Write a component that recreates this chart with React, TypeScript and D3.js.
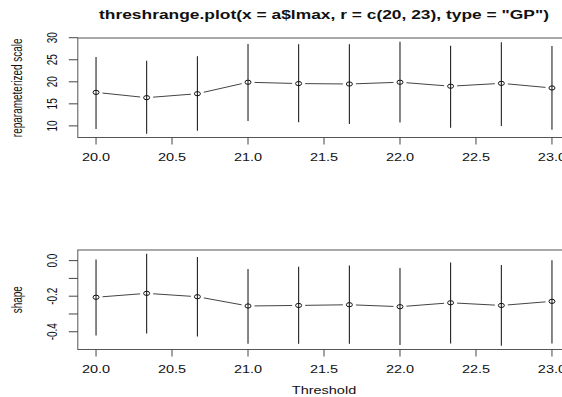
import React from 'react';
import * as d3 from 'd3';

const thresholds = [20, 20.333, 20.667, 21, 21.333, 21.667, 22, 22.333, 22.667, 23];

const scaleEst = [17.6, 16.4, 17.3, 19.9, 19.6, 19.5, 19.9, 19.0, 19.65, 18.6];
const scaleLo = [9.3, 8.2, 8.9, 11.1, 10.8, 10.45, 10.75, 9.6, 10.0, 9.1];
const scaleHi = [25.6, 24.8, 25.8, 28.6, 28.5, 28.5, 29.1, 28.2, 29.0, 28.1];

const shapeEst = [-0.206, -0.184, -0.203, -0.255, -0.252, -0.248, -0.259, -0.237, -0.252, -0.229];
const shapeLo = [-0.421, -0.41, -0.426, -0.468, -0.468, -0.468, -0.475, -0.466, -0.479, -0.466];
const shapeHi = [0.006, 0.039, 0.021, -0.047, -0.035, -0.028, -0.041, -0.011, -0.024, 0.002];

const xTicks = [20, 20.5, 21, 21.5, 22, 22.5, 23];
const scaleTicks = [10, 15, 20, 25, 30];
const shapeTicks = [0, -0.1, -0.2, -0.3, -0.4];
const shapeTickLabels = ['0.0', '', '-0.2', '', '-0.4'];

const TITLE = 'threshrange.plot(x = a$lmax, r = c(20, 23), type = "GP")';
const FONT = '"Liberation Sans", Arial, Helvetica, sans-serif';
const SX = 1.45; // the picture is stretched sideways

// R style axis limits: data range plus 4%
function rlim(vals: number[]): [number, number] {
	const lo = d3.min(vals) as number;
	const hi = d3.max(vals) as number;
	const pad = (hi - lo) * 0.04;
	return [lo - pad, hi + pad];
}

const x = d3.scaleLinear().domain(rlim(thresholds)).range([77.8, 570.2]);

function Txt(props: { x: number; y: number; rot?: boolean; size: number; bold?: boolean; children: string }) {
	const { rot, size, bold, children } = props;
	return (
		<g transform={`translate(${props.x},${props.y}) scale(${SX},1)${rot ? ' rotate(-90)' : ''}`}>
			<text textAnchor="middle" fontSize={size} fontWeight={bold ? 'bold' : 'normal'} fill="#111">
				{children}
			</text>
		</g>
	);
}

type PanelProps = {
	est: number[];
	lo: number[];
	hi: number[];
	top: number;
	bottom: number;
	ticks: number[];
	tickLabels: string[];
	ylab: string;
};

function Panel({ est, lo, hi, top, bottom, ticks, tickLabels, ylab }: PanelProps) {
	const y = d3.scaleLinear().domain(rlim([...lo, ...hi])).range([bottom, top]);
	const pts = thresholds.map((t, i) => [x(t), y(est[i])]);
	const gap = 6.5;
	const segs = pts.slice(1).map((p, i) => {
		const a = pts[i];
		const dx = p[0] - a[0];
		const dy = p[1] - a[1];
		const len = Math.hypot(dx, dy);
		const ux = dx / len;
		const uy = dy / len;
		return [a[0] + ux * gap, a[1] + uy * gap, p[0] - ux * gap, p[1] - uy * gap];
	});
	const [x0, x1] = x.range();
	return (
		<g>
			<rect x={x0} y={top} width={x1 - x0} height={bottom - top} fill="none" stroke="#555" strokeWidth={1} />
			{/* y axis */}
			{ticks.map((t, i) => (
				<g key={'yt' + i}>
					<line x1={x0 - 9} x2={x0} y1={y(t)} y2={y(t)} stroke="#444" />
					{tickLabels[i] && (
						<Txt x={56.7} y={y(t)} rot size={10}>
							{tickLabels[i]}
						</Txt>
					)}
				</g>
			))}
			{/* x axis */}
			{xTicks.map((t) => (
				<g key={'xt' + t}>
					<line x1={x(t)} x2={x(t)} y1={bottom} y2={bottom + 7} stroke="#444" />
					<Txt x={x(t)} y={bottom + 23} size={10}>
						{d3.format('.1f')(t)}
					</Txt>
				</g>
			))}
			<Txt x={21.5} y={(top + bottom) / 2} rot size={10}>
				{ylab}
			</Txt>
			{/* intervals */}
			{thresholds.map((t, i) => (
				<line key={'ci' + i} x1={x(t)} x2={x(t)} y1={y(lo[i])} y2={y(hi[i])} stroke="#222" strokeWidth={1.1} />
			))}
			{segs.map((s, i) => (
				<line key={'sg' + i} x1={s[0]} y1={s[1]} x2={s[2]} y2={s[3]} stroke="#444" strokeWidth={1} />
			))}
			{pts.map((p, i) => (
				<ellipse key={'pt' + i} cx={p[0]} cy={p[1]} rx={3} ry={2.1} fill="none" stroke="#111" strokeWidth={1} />
			))}
		</g>
	);
}

export default function App() {
	return (
		<svg
			width={562}
			height={397}
			style={{ position: 'absolute', left: 0, top: 0, background: '#fff' }}
			fontFamily={FONT}
		>
			<rect width={562} height={397} fill="#fff" />
			<Txt x={324} y={18.5} size={12} bold>
				{TITLE}
			</Txt>
			<Panel
				est={scaleEst}
				lo={scaleLo}
				hi={scaleHi}
				top={38}
				bottom={137.5}
				ticks={scaleTicks}
				tickLabels={scaleTicks.map(String)}
				ylab="reparameterized scale"
			/>
			<Panel
				est={shapeEst}
				lo={shapeLo}
				hi={shapeHi}
				top={250}
				bottom={349.5}
				ticks={shapeTicks}
				tickLabels={shapeTickLabels}
				ylab="shape"
			/>
			<Txt x={324} y={394} size={10}>
				Threshold
			</Txt>
		</svg>
	);
}
